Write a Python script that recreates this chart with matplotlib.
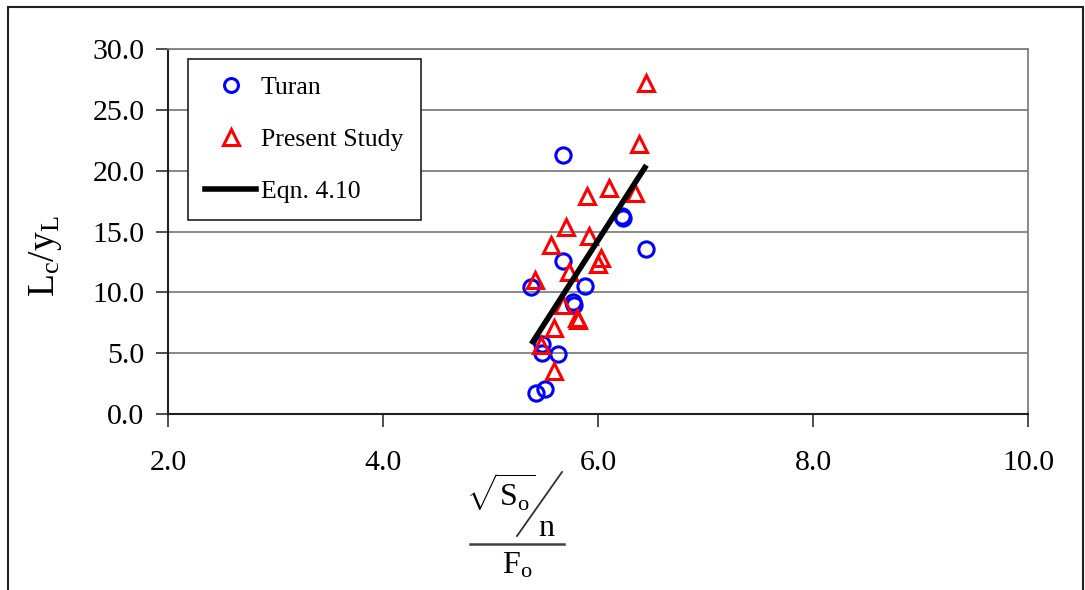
import matplotlib
matplotlib.use("Agg")
import matplotlib.pyplot as plt
from matplotlib.patches import Rectangle
from matplotlib.lines import Line2D

plt.rcParams['font.family'] = ['Liberation Serif', 'DejaVu Serif']
plt.rcParams['mathtext.fontset'] = 'custom'
plt.rcParams['mathtext.rm'] = 'Liberation Serif'
plt.rcParams['mathtext.it'] = 'Liberation Serif'
plt.rcParams['mathtext.bf'] = 'Liberation Serif:bold'

# Data
turan_x = [5.67, 6.22, 6.23, 6.45, 5.67, 5.88, 5.38, 5.77, 5.78, 5.48, 5.48, 5.63, 5.42, 5.51]
turan_y = [21.3, 16.3, 16.1, 13.6, 12.6, 10.5, 10.4, 9.2, 9.0, 5.75, 5.0, 4.9, 1.75, 2.05]

study_x = [6.45, 6.38, 6.34, 6.10, 5.90, 5.92, 5.70, 5.56, 6.03, 6.00, 5.73, 5.41,
           5.80, 5.81, 5.67, 5.59, 5.47, 5.59]
study_y = [27.2, 22.2, 18.2, 18.6, 17.9, 14.6, 15.4, 13.9, 12.8, 12.3, 11.7, 11.0,
           7.9, 7.7, 9.0, 7.1, 5.7, 3.5]

eqn_x = [5.38, 6.45]
eqn_y = [5.75, 20.45]

x_ticks = [2.0, 4.0, 6.0, 8.0, 10.0]
y_ticks = [0.0, 5.0, 10.0, 15.0, 20.0, 25.0, 30.0]

W, H = 1085, 590
fig = plt.figure(figsize=(W / 100, H / 100), dpi=100)
ax = fig.add_axes([168 / W, 1 - 414 / H, (1028 - 168) / W, (414 - 49) / H])

ax.set_xlim(2, 10)
ax.set_ylim(0, 30)
ax.set_xticks(x_ticks)
ax.set_yticks(y_ticks)
ax.set_xticklabels([f"{v:.1f}" for v in x_ticks])
ax.set_yticklabels([f"{v:.1f}" for v in y_ticks])
ax.tick_params(axis='both', direction='out', length=9, width=1.2, color='#303030',
               labelsize=21.5)
ax.tick_params(axis='y', pad=8)
ax.tick_params(axis='x', pad=17)

for yv in y_ticks[1:]:
    ax.axhline(yv, color='#7f7f7f', lw=1.3, zorder=0)

ax.spines['left'].set_color('#202020')
ax.spines['left'].set_linewidth(1.5)
ax.spines['bottom'].set_color('#202020')
ax.spines['bottom'].set_linewidth(1.5)
ax.spines['top'].set_color('#7f7f7f')
ax.spines['top'].set_linewidth(1.3)
ax.spines['right'].set_color('#7f7f7f')
ax.spines['right'].set_linewidth(1.3)

ax.plot(turan_x, turan_y, linestyle='none', marker='o', ms=11, mfc='none',
        mec='#0000ff', mew=2.2, zorder=3)
ax.plot(study_x, study_y, linestyle='none', marker='^', ms=12, mfc='none',
        mec='#ff0000', mew=2.2, zorder=3)
ax.plot(eqn_x, eqn_y, color='black', lw=4, solid_capstyle='butt', zorder=4)

handles = [
    Line2D([], [], linestyle='none', marker='o', ms=10, mfc='none', mec='#0000ff', mew=2.2),
    Line2D([], [], linestyle='none', marker='^', ms=11, mfc='none', mec='#ff0000', mew=2.2),
    Line2D([], [], color='black', lw=4),
]
leg = ax.legend(handles, ['Turan', 'Present Study', 'Eqn. 4.10'],
                loc='upper left', bbox_to_anchor=(188 / W, 1 - 59 / H),
                bbox_transform=fig.transFigure, fontsize=18.5, frameon=True,
                fancybox=False, edgecolor='#202020', framealpha=1,
                handlelength=1.95, handletextpad=0.2, labelspacing=1.12,
                borderpad=0.68, borderaxespad=0)
leg.get_frame().set_linewidth(1.2)

fig.text(45 / W, 1 - 256 / H, r'$\mathregular{L_c/y_L}$', rotation=90,
         ha='center', va='center', fontsize=27)

# x-axis label built as a stacked fraction: (sqrt(S_o) / n) over F_o
fig.text(501 / W, 1 - 493 / H, r'$\mathregular{\sqrt{S_o}}$',
         ha='center', va='center', fontsize=23)
fig.text(546 / W, 1 - 528 / H, 'n', ha='center', va='center', fontsize=23)
fig.add_artist(Line2D([517 / W, 562 / W], [1 - 536 / H, 1 - 472 / H],
                      transform=fig.transFigure, color='#303030', lw=1.3))
fig.add_artist(Line2D([470 / W, 564 / W], [1 - 544 / H, 1 - 544 / H],
                      transform=fig.transFigure, color='#404040', lw=1.8))
fig.text(517 / W, 1 - 566 / H, r'$\mathregular{F_o}$', ha='center', va='center',
         fontsize=23)

fig.add_artist(Rectangle((8 / W, -0.05), (1083 - 8) / W, 1.05 - 7 / H,
                         transform=fig.transFigure, fill=False,
                         edgecolor='#202020', lw=1.5))

fig.savefig('out.png', dpi=100)
